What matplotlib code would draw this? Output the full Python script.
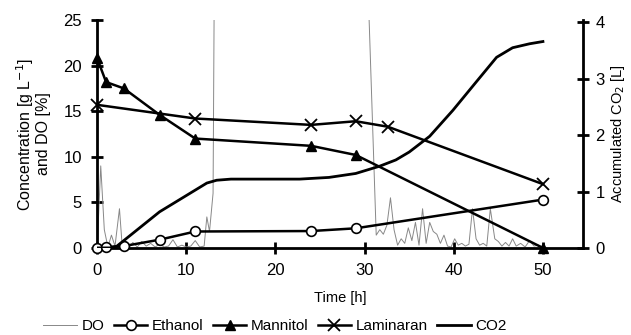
import matplotlib.pyplot as plt

# measured series
eth_t = [0, 1, 3, 7, 11, 24, 29, 50]
ethanol = [0, 0.1, 0.2, 0.9, 1.8, 1.85, 2.15, 5.3]

man_t = [0, 1, 3, 7, 11, 24, 29, 50]
mannitol = [20.8, 18.2, 17.5, 14.6, 12.0, 11.2, 10.2, 0]

lam_t = [0, 11, 24, 29, 32.6, 50]
laminaran = [15.7, 14.2, 13.5, 13.9, 13.3, 7.0]

co2_t = [0, 1.5, 2.2, 7, 12.3, 13.4, 15, 22.7, 26, 29, 31.7, 33.5, 35, 37.3, 39.9,
         42.5, 44.8, 46.6, 48.5, 50]
co2 = [0, 0, 0.03, 0.64, 1.15, 1.2, 1.22, 1.22, 1.25, 1.32, 1.45, 1.56, 1.7, 1.98, 2.44,
       2.94, 3.38, 3.55, 3.62, 3.66]

do_t = [0, 0.4, 0.8, 1.2, 1.6, 2.0, 2.5, 2.8, 3.2, 3.6, 4.0, 4.5, 5.0, 5.5, 6.0, 6.5,
        7.0, 7.5, 8.0, 8.5, 9.0, 9.5, 10.0, 10.5, 11.0, 11.5, 12.0, 12.3, 12.6, 13.0,
        13.2, 30.0, 31.3, 31.7, 32.1, 32.5, 32.9, 33.3, 33.7, 34.1, 34.5, 34.9, 35.3,
        35.7, 36.1, 36.5, 36.9, 37.3, 37.7, 38.1, 38.5, 38.9, 39.3, 39.7, 40.1, 40.5,
        40.9, 41.3, 41.7, 42.1, 42.5, 42.9, 43.3, 43.7, 44.1, 44.6, 45.0, 45.4, 45.8,
        46.2, 46.6, 47.0, 47.5, 48.0, 48.5, 49.0, 49.5, 50.0]
do = [0, 9.0, 2.0, 0.1, 1.4, 0.2, 4.3, 0.3, 0.8, 0.1, 0.6, 0.1, 0.7, 0.2, 0.5, 0.1,
      0.4, 0.1, 0.2, 0.9, 0.1, 0.3, 0.1, 0.2, 0.8, 0.1, 0.2, 3.4, 1.8, 6.0,
      40, 40, 1.4, 2.0, 1.5, 2.5, 5.5, 2.0, 0.3, 1.0, 0.5, 2.2, 0.8,
      2.8, 0.3, 4.3, 0.5, 2.8, 1.8, 1.5, 0.5, 1.4, 0.2, 0.1, 1.0, 0.3,
      0.5, 0.2, 0.4, 4.3, 1.0, 0.3, 0.5, 0.2, 4.3, 1.0, 0.7, 0.2, 0.6,
      0.2, 1.0, 0.2, 0.5, 0.1, 0.8, 0.2, 0.3, 0]

plt.rcParams['font.family'] = ['Liberation Sans', 'DejaVu Sans']
plt.rcParams['font.size'] = 10

fig = plt.figure(figsize=(6.31, 3.35), dpi=100)
ax = fig.add_axes([0.154, 0.26, 0.77, 0.68])
ax2 = ax.twinx()

l_do, = ax.plot(do_t, do, color='#888888', lw=0.7, label='DO')
l_eth, = ax.plot(eth_t, ethanol, color='black', lw=1.8, marker='o', ms=7,
                 mfc='white', mec='black', mew=1.2, clip_on=False, zorder=3, label='Ethanol')
l_man, = ax.plot(man_t, mannitol, color='black', lw=1.8, marker='^', ms=7,
                 clip_on=False, zorder=3, label='Mannitol')
l_lam, = ax.plot(lam_t, laminaran, color='black', lw=1.8, marker='x', ms=8,
                 mew=1.3, clip_on=False, zorder=3, label='Laminaran')
l_co2, = ax2.plot(co2_t, co2, color='black', lw=2.0, label='CO2')

ax.set_xlim(0, 54.5)
ax.set_ylim(0, 25)
ax2.set_ylim(0, 4.04)
ax.set_xticks([0, 10, 20, 30, 40, 50])
ax.set_yticks([0, 5, 10, 15, 20, 25])
ax2.set_yticks([0, 1, 2, 3, 4])

for a in (ax, ax2):
    a.spines['top'].set_visible(False)
    for s in ('left', 'bottom', 'right'):
        a.spines[s].set_linewidth(2)
    a.tick_params(direction='inout', length=8, width=2, labelsize=12, pad=7)
ax2.tick_params(pad=5)
ax2.spines['left'].set_visible(False)
ax2.spines['bottom'].set_visible(False)
ax.spines['right'].set_visible(False)

ax.set_xlabel('Time [h]', fontsize=10.5, labelpad=9)
ax.set_ylabel('Concentration [g L$^{-1}$]\nand DO [%]', fontsize=11.5, linespacing=1.0,
              labelpad=9)
ax2.set_ylabel('Accumulated CO$_2$ [L]', fontsize=10.5, labelpad=3)

fig.legend(handles=[l_do, l_eth, l_man, l_lam, l_co2], loc='lower center',
           bbox_to_anchor=(0.436, -0.035), ncol=5, frameon=False, fontsize=11,
           handlelength=2.2, handletextpad=0.3, columnspacing=0.6)

fig.savefig('out.png', dpi=100)
